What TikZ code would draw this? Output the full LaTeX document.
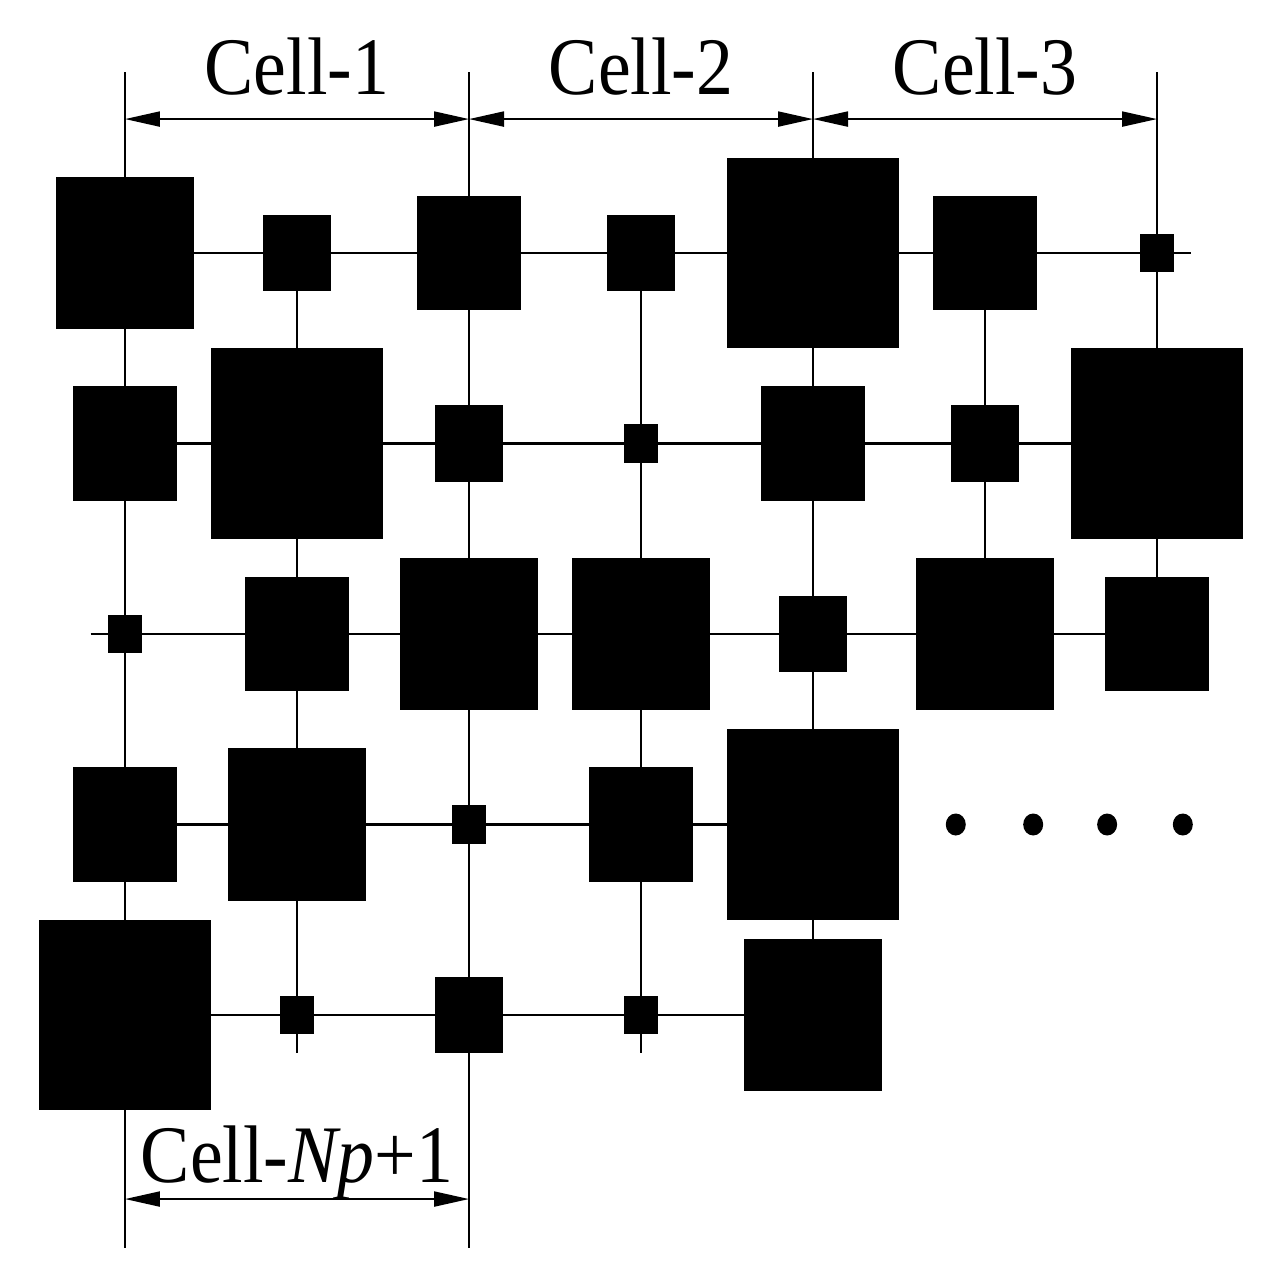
\documentclass[tikz,border=0pt]{standalone}
\usepackage{fontspec}
\usepackage{graphicx}
\setmainfont{Liberation Serif}
\usetikzlibrary{positioning}
\usetikzlibrary{calc}
\usetikzlibrary{arrows.meta}

\newcommand{\tallname}[1]{\scalebox{1}[1.107]{#1}}

\tikzset{
  blk/.style={fill=black, inner sep=0pt, outer sep=0pt,
    minimum width=#1*1.72cm, minimum height=#1*1.905cm},
  mainline/.style={line width=0.6pt},
  thinline/.style={line width=0.35pt},
  dimline/.style={line width=0.6pt, {Triangle[length=3.5mm,width=1.5mm]}-{Triangle[length=3.5mm,width=1.5mm]}},
  cellname/.style={font=\fontsize{21}{25}\selectfont, anchor=base, inner sep=0pt}
}

\begin{document}
\begin{tikzpicture}[x=1.72cm, y=1.905cm]
\useasboundingbox (-0.7267,-5.412) rectangle (6.738,1.328);
% grid points
\foreach \r in {0,...,4}
  \foreach \c in {0,...,6}
    \coordinate (g-\r-\c) at (\c,-\r);
\foreach \c in {0,2,4,6} {
  \coordinate (top-\c) at (\c,0.95);
  \coordinate (dim-\c) at (\c,0.703);
}
\coordinate (bot-0) at (0,-5.223);
\coordinate (bot-2) at (2,-5.223);
\coordinate (bot-1) at (1,-4.2);
\coordinate (bot-3) at (3,-4.2);
\coordinate (end-0) at (6.2,0);
\coordinate (end-2) at (-0.2,-2);
\coordinate (ldim-0) at (0,-4.966);
\coordinate (ldim-2) at (2,-4.966);

% grid lines
\draw[mainline] (top-0) -- (bot-0);
\draw[mainline] (top-2) -- (bot-2);
\draw[mainline] (top-4) -- (g-4-4);
\draw[mainline] (top-6) -- (g-2-6);
\draw[thinline] (g-0-1) -- (bot-1);
\draw[thinline] (g-0-3) -- (bot-3);
\draw[thinline] (g-0-5) -- (g-2-5);
\draw[mainline] (g-0-0) -- (end-0);
\draw[mainline] (g-1-0) -- (g-1-6);
\draw[mainline] (end-2) -- (g-2-6);
\draw[mainline] (g-3-0) -- (g-3-4);
\draw[mainline] (g-4-0) -- (g-4-4);

% squares
\foreach \s [count=\c from 0] in {0.8,0.4,0.6,0.4,1.0,0.6,0.2}
  \node[blk=\s] (s-0-\c) at (g-0-\c) {};
\foreach \s [count=\c from 0] in {0.6,1.0,0.4,0.2,0.6,0.4,1.0}
  \node[blk=\s] (s-1-\c) at (g-1-\c) {};
\foreach \s [count=\c from 0] in {0.2,0.6,0.8,0.8,0.4,0.8,0.6}
  \node[blk=\s] (s-2-\c) at (g-2-\c) {};
\foreach \s [count=\c from 0] in {0.6,0.8,0.2,0.6,1.0}
  \node[blk=\s] (s-3-\c) at (g-3-\c) {};
\foreach \s [count=\c from 0] in {1.0,0.2,0.4,0.2,0.8}
  \node[blk=\s] (s-4-\c) at (g-4-\c) {};

% dots
\foreach \x in {4.83,5.28,5.71,6.15}
  \fill (\x,-3) ellipse [x radius=0.1cm, y radius=0.11cm];

% cell widths
\draw[dimline] (dim-0) -- node[cellname, yshift=0.25cm] (cell1) {\tallname{Cell-1}} (dim-2);
\draw[dimline] (dim-2) -- node[cellname, yshift=0.25cm] (cell2) {\tallname{Cell-2}} (dim-4);
\draw[dimline] (dim-4) -- node[cellname, yshift=0.25cm] (cell3) {\tallname{Cell-3}} (dim-6);
\draw[dimline] (ldim-0) -- node[cellname, yshift=0.17cm] (cellnp) {\tallname{Cell-\textit{Np}+1}} (ldim-2);
\end{tikzpicture}
\end{document}
